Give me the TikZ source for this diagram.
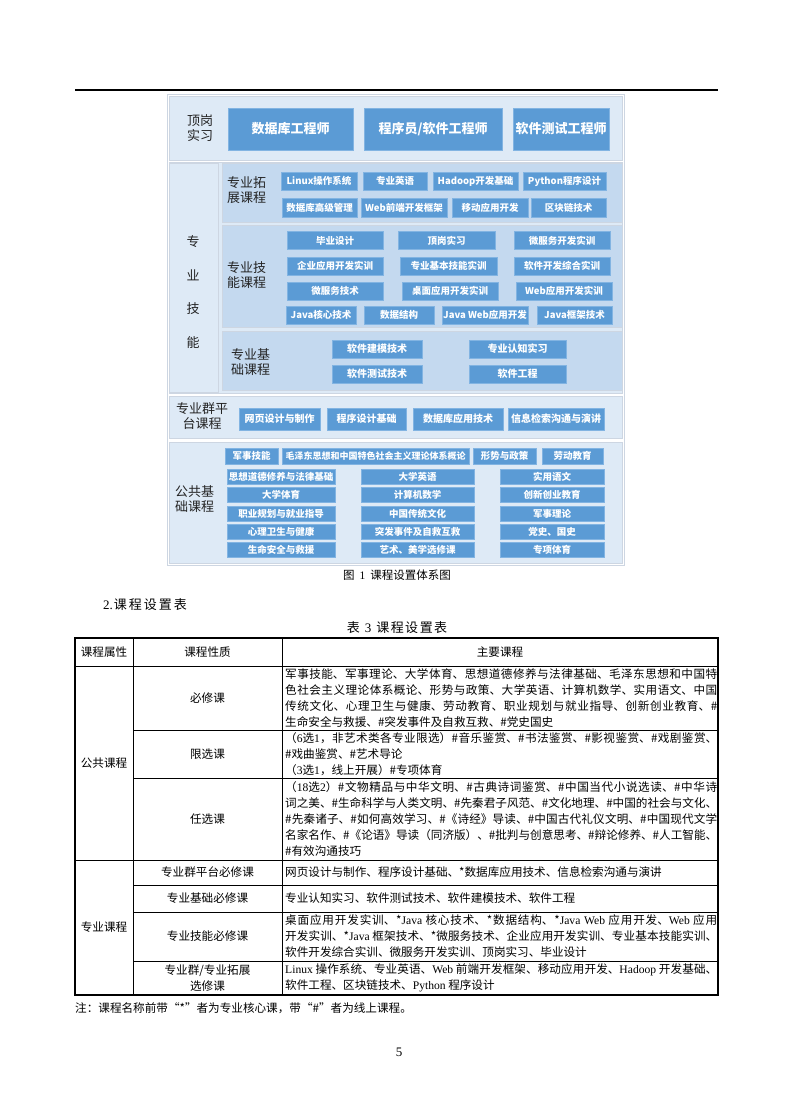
\documentclass[tikz,border=0pt]{standalone}
\usepackage{fontspec}
\setmainfont{Noto Sans CJK SC}
\newfontfamily\tnr{Liberation Serif}
\usetikzlibrary{positioning}
\definecolor{panelblue}{RGB}{222,234,246}
\definecolor{midblue}{RGB}{196,217,239}
\definecolor{boxblue}{RGB}{91,155,213}
\definecolor{boxedge}{RGB}{130,180,226}
\definecolor{framegray}{RGB}{205,214,226}
\definecolor{labelgray}{RGB}{35,35,35}
\XeTeXlinebreaklocale "zh"
\XeTeXlinebreakskip=0pt plus 1.5pt minus 0.4pt

\begin{document}
\begin{tikzpicture}[x=1pt,y=-1pt,
  panel/.style={fill=panelblue,draw=framegray,line width=0.5pt},
  subpanel/.style={fill=midblue,draw=framegray,line width=0.5pt},
  job/.style={fill=boxblue,draw=boxedge,line width=0.5pt,text=white,
    font=\fontsize{13}{15}\selectfont\bfseries,minimum height=42pt,inner sep=0pt},
  course/.style={fill=boxblue,draw=boxedge,line width=0.4pt,text=white,
    font=\fontsize{#1}{#1}\selectfont\bfseries,inner sep=0pt},
  course/.default=9.5,
  tag/.style={font=\fontsize{13}{15}\selectfont,text=labelgray,align=left,inner sep=0pt},
  cell/.style={font=\fontsize{11.6}{16}\selectfont,inner sep=0pt,align=center},
  body/.style={cell,anchor=west,text width=432pt,align=justify}
]
\useasboundingbox (0,0) rectangle (793,1099);
\fill[white] (0,0) rectangle (793,1099);
\draw[line width=1.2pt] (75,90) -- (718,90);

% course system diagram
\draw[framegray,line width=0.8pt] (167,94) rectangle (624,565);
\draw[panel] (169,96) rectangle (622,160);
\draw[panel] (169,162) rectangle (622,393);
\draw[panel] (169,163) rectangle (218,392);
\draw[subpanel] (222,163) rectangle (622,222);
\draw[subpanel] (222,225) rectangle (622,327);
\draw[subpanel] (222,331) rectangle (622,390);
\draw[panel] (169,396) rectangle (622,438);
\draw[panel] (169,442) rectangle (622,563);

\node[tag,align=center] (dgsx) at (200,128) {顶岗\\实习};
\node[job,minimum width=125] (dbe) at (290.5,129) {数据库工程师};
\node[job,minimum width=138] (prg) at (433,129) {程序员/软件工程师};
\node[job,minimum width=96] (tst) at (561,129) {软件测试工程师};

\node[tag,align=center,font=\fontsize{13}{33.5}\selectfont] (zyjn) at (193,292) {专\\业\\技\\能};

\node[tag,anchor=west] (tzkc) at (227,190.5) {专业拓\\展课程};
\foreach \xa/\xb/\nm/\txt in {281/357/lnx/Linux操作系统,363/427/yy/专业英语,
    433/518/hdp/Hadoop开发基础,523/606/py/Python程序设计}
  \node[course,minimum width=\xb-\xa,minimum height=18] (\nm) at ({(\xa+\xb)/2},181) {\txt};
\foreach \xa/\xb/\nm/\txt in {282/357/gjgl/数据库高级管理,361/447/qd/Web前端开发框架,
    452/528/yd/移动应用开发,531/606/qkl/区块链技术}
  \node[course,minimum width=\xb-\xa,minimum height=19] (\nm) at ({(\xa+\xb)/2},207.5) {\txt};

\node[tag,anchor=west] (jnkc) at (227,275) {专业技\\能课程};
\foreach \xa/\xb/\nm/\txt in {287/383/bysj/毕业设计,398/495/dgsx2/顶岗实习,514/610/wfsx/微服务开发实训}
  \node[course,minimum width=\xb-\xa,minimum height=18] (\nm) at ({(\xa+\xb)/2},240.5) {\txt};
\foreach \xa/\xb/\nm/\txt in {287/383/qysx/企业应用开发实训,400/497/jbsx/专业基本技能实训,514/610/zhsx/软件开发综合实训}
  \node[course,minimum width=\xb-\xa,minimum height=18] (\nm) at ({(\xa+\xb)/2},266) {\txt};
\foreach \xa/\xb/\nm/\txt in {287/383/wfjs/微服务技术,402/498/zmsx/桌面应用开发实训,516/612/wbsx/Web应用开发实训}
  \node[course,minimum width=\xb-\xa,minimum height=18] (\nm) at ({(\xa+\xb)/2},291) {\txt};
\foreach \xa/\xb/\nm/\txt in {286/356/jhx/Java核心技术,364/434/sjjg/数据结构,442/528/jweb/Java Web应用开发,537/612/jkj/Java框架技术}
  \node[course,minimum width=\xb-\xa,minimum height=18] (\nm) at ({(\xa+\xb)/2},315) {\txt};

\node[tag,anchor=west] (jckc) at (231,362) {专业基\\础课程};
\foreach \xa/\xb/\nm/\txt in {332/422/jmjs/软件建模技术,469/566/rzsx/专业认知实习}
  \node[course=10,minimum width=\xb-\xa,minimum height=18] (\nm) at ({(\xa+\xb)/2},349) {\txt};
\foreach \xa/\xb/\nm/\txt in {332/422/csjs/软件测试技术,469/566/rjgc/软件工程}
  \node[course=10,minimum width=\xb-\xa,minimum height=18] (\nm) at ({(\xa+\xb)/2},374) {\txt};

\node[tag,align=center] (ptkc) at (202,416) {专业群平\\台课程};
\foreach \xa/\xb/\nm/\txt in {239/320/wysj/网页设计与制作,327/406/cxjc/程序设计基础,
    413/503/sjyy/数据库应用技术,508/604/xxjs/信息检索沟通与演讲}
  \node[course=10,minimum width=\xb-\xa,minimum height=22] (\nm) at ({(\xa+\xb)/2},419) {\txt};

\node[tag,anchor=west] (ggkc) at (175,499) {公共基\\础课程};
\node[course,minimum width=53,minimum height=16] (jsjn) at (251.5,456) {军事技能};
\node[course=9,minimum width=187,minimum height=16] (mzd) at (375.5,456) {毛泽东思想和中国特色社会主义理论体系概论};
\node[course,minimum width=63,minimum height=16] (xszc) at (504.5,456) {形势与政策};
\node[course,minimum width=61,minimum height=16] (ldjy) at (572.5,456) {劳动教育};
\foreach \y/\ta/\tb/\tc [count=\i] in {476.5/思想道德修养与法律基础/大学英语/实用语文,
    494.5/大学体育/计算机数学/创新创业教育,
    513.5/职业规划与就业指导/中国传统文化/军事理论,
    531.5/心理卫生与健康/突发事件及自救互救/党史、国史,
    549.5/生命安全与救援/艺术、美学选修课/专项体育} {
  \node[course,minimum width=108,minimum height=15] (ga\i) at (281,\y) {\ta};
  \node[course,minimum width=113,minimum height=15] (gb\i) at (417.5,\y) {\tb};
  \node[course,minimum width=104,minimum height=15] (gc\i) at (552,\y) {\tc};
}

\node[cell,font=\fontsize{11.5}{14}\selectfont] (fig) at (397,575) {图\hspace{5pt}{\tnr 1}\hspace{5pt}课程设置体系图};
\node[cell,anchor=west,font=\fontsize{13}{15}\selectfont] (sec) at (103,605) {{\tnr 2.}\hspace{1pt}课\hspace{2pt}程\hspace{2pt}设\hspace{2pt}置\hspace{2pt}表};
\node[cell,font=\fontsize{13}{15}\selectfont] (tab) at (397,628) {表\hspace{5pt}{\tnr 3}\hspace{5pt}课\hspace{1.5pt}程\hspace{1.5pt}设\hspace{1.5pt}置\hspace{1.5pt}表};

% course table
\draw[line width=1.4pt] (75,638) rectangle (718,995);
\draw[line width=0.6pt] (133,638) -- (133,995) (282,638) -- (282,995)
  (75,666) -- (718,666) (133,730) -- (718,730) (133,778) -- (718,778)
  (75,860) -- (718,860) (133,885) -- (718,885) (133,912) -- (718,912)
  (133,961) -- (718,961);

\node[cell] (hsx) at (104,652) {课程属性};
\node[cell] (hxz) at (207.5,652) {课程性质};
\node[cell] (hkc) at (500,652) {主要课程};
\node[cell] (ggk) at (104,763) {公共课程};
\node[cell] (zyk) at (104,927.5) {专业课程};
\node[cell] (bxk) at (207.5,698) {必修课};
\node[cell] (xxk) at (207.5,754) {限选课};
\node[cell] (rxk) at (207.5,819) {任选课};
\node[cell] (ptbx) at (207.5,872.5) {专业群平台必修课};
\node[cell] (jcbx) at (207.5,898.5) {专业基础必修课};
\node[cell] (jnbx) at (207.5,936.5) {专业技能必修课};
\node[cell] (tzxx) at (207.5,978) {专业群/专业拓展\\选修课};

\node[body] (bxnr) at (285,698) {\noindent 军事技能、军事理论、大学体育、思想道德修养与法律基础、毛泽东思想和中国特\linebreak
  色社会主义理论体系概论、形势与政策、大学英语、计算机数学、实用语文、中国\linebreak
  传统文化、心理卫生与健康、劳动教育、职业规划与就业指导、创新创业教育、\#\linebreak
  生命安全与救援、\#突发事件及自救互救、\#党史国史};
\node[body] (xxnr) at (285,754) {\noindent （{\tnr 6}选{\tnr 1}，非艺术类各专业限选）\#音乐鉴赏、\#书法鉴赏、\#影视鉴赏、\#戏剧鉴赏、\linebreak
  \#戏曲鉴赏、\#艺术导论\newline
  （{\tnr 3}选{\tnr 1}，线上开展）\#专项体育};
\node[body] (rxnr) at (285,819) {\noindent （{\tnr 18}选{\tnr 2}）\#文物精品与中华文明、\#古典诗词鉴赏、\#中国当代小说选读、\#中华诗\linebreak
  词之美、\#生命科学与人类文明、\#先秦君子风范、\#文化地理、\#中国的社会与文化、\linebreak
  \#先秦诸子、\#如何高效学习、\#《诗经》导读、\#中国古代礼仪文明、\#中国现代文学\linebreak
  名家名作、\#《论语》导读（同济版）、\#批判与创意思考、\#辩论修养、\#人工智能、\linebreak
  \#有效沟通技巧};
\node[body] (ptnr) at (285,872.5) {\noindent 网页设计与制作、程序设计基础、*数据库应用技术、信息检索沟通与演讲};
\node[body] (jcnr) at (285,898.5) {\noindent 专业认知实习、软件测试技术、软件建模技术、软件工程};
\node[body] (jnnr) at (285,936.5) {\noindent 桌面应用开发实训、*{\tnr Java} 核心技术、*数据结构、*{\tnr Java Web} 应用开发、{\tnr Web} 应用\linebreak
  开发实训、*{\tnr Java} 框架技术、*微服务技术、企业应用开发实训、专业基本技能实训、\linebreak
  软件开发综合实训、微服务开发实训、顶岗实习、毕业设计};
\node[body] (tznr) at (285,978) {\noindent {\tnr Linux} 操作系统、专业英语、{\tnr Web} 前端开发框架、移动应用开发、{\tnr Hadoop} 开发基础、\linebreak
  软件工程、区块链技术、{\tnr Python} 程序设计};

\node[cell,anchor=west] (note) at (75,1008) {注：课程名称前带“*”者为专业核心课，带“\#”者为线上课程。};
\node[cell,font=\fontsize{13}{15}\selectfont] (pgno) at (399,1052) {\tnr 5};
\end{tikzpicture}
\end{document}
